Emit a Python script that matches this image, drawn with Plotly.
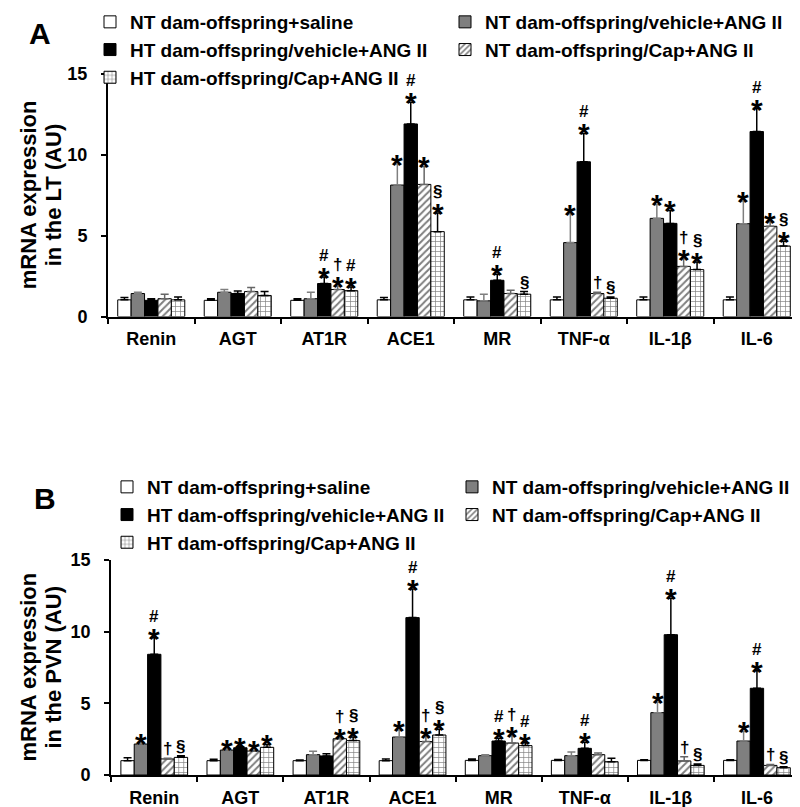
import plotly.graph_objects as go

# ---------------- data ----------------
categories = ["Renin", "AGT", "AT1R", "ACE1", "MR", "TNF-α", "IL-1β", "IL-6"]
group_names = [
    "NT dam-offspring+saline",
    "NT dam-offspring/vehicle+ANG II",
    "HT dam-offspring/vehicle+ANG II",
    "NT dam-offspring/Cap+ANG II",
    "HT dam-offspring/Cap+ANG II",
]
y_ticks = [0, 5, 10, 15]

# Panel A: LT
lt_nt_saline = [1.03, 1.0, 1.0, 1.03, 1.03, 1.03, 1.03, 1.03]
lt_nt_saline_err = [0.15, 0.1, 0.1, 0.15, 0.18, 0.18, 0.18, 0.18]
lt_nt_veh = [1.42, 1.5, 1.1, 8.13, 0.97, 4.57, 6.07, 5.74]
lt_nt_veh_err = [0.08, 0.17, 0.4, 1.31, 0.4, 1.79, 0.86, 1.4]
lt_ht_veh = [1.0, 1.42, 2.04, 11.91, 2.24, 9.57, 5.76, 11.44]
lt_ht_veh_err = [0.1, 0.16, 0.4, 1.34, 0.37, 1.75, 0.8, 1.42]
lt_nt_cap = [1.1, 1.54, 1.67, 8.17, 1.42, 1.42, 3.1, 5.58]
lt_nt_cap_err = [0.27, 0.25, 0.22, 1.11, 0.2, 0.08, 0.47, 0.28]
lt_ht_cap = [1.03, 1.3, 1.6, 5.25, 1.38, 1.13, 2.9, 4.36]
lt_ht_cap_err = [0.18, 0.25, 0.22, 1.15, 0.16, 0.08, 0.47, 0.29]

lt_marks_nt_saline = ["", "", "", "", "", "", "", ""]
lt_marks_nt_veh = ["", "", "", "*", "", "*", "*", "*"]
lt_marks_ht_veh = ["", "", "*#", "*#", "*#", "*#", "*", "*#"]
lt_marks_nt_cap = ["", "", "*†", "*", "", "†", "*†", "*"]
lt_marks_ht_cap = ["", "", "*#", "*§", "§", "§", "*§", "*§"]

# Panel B: PVN
pvn_nt_saline = [1.0, 1.0, 1.0, 1.0, 1.02, 1.02, 1.02, 1.02]
pvn_nt_saline_err = [0.2, 0.1, 0.05, 0.12, 0.1, 0.07, 0.05, 0.05]
pvn_nt_veh = [2.16, 1.74, 1.42, 2.65, 1.35, 1.35, 4.35, 2.37]
pvn_nt_veh_err = [0.1, 0.09, 0.23, 0.49, 0.07, 0.26, 0.72, 0.67]
pvn_ht_veh = [8.42, 1.9, 1.33, 10.98, 2.37, 1.86, 9.79, 6.05]
pvn_ht_veh_err = [1.16, 0.07, 0.16, 2.0, 0.2, 0.42, 2.54, 1.23]
pvn_nt_cap = [1.12, 1.67, 2.53, 2.33, 2.23, 1.42, 0.98, 0.67]
pvn_nt_cap_err = [0.05, 0.05, 0.07, 0.35, 0.5, 0.12, 0.3, 0.07]
pvn_ht_cap = [1.23, 1.93, 2.4, 2.79, 2.05, 0.93, 0.67, 0.51]
pvn_ht_cap_err = [0.12, 0.2, 0.25, 0.4, 0.2, 0.23, 0.1, 0.07]

pvn_marks_nt_saline = ["", "", "", "", "", "", "", ""]
pvn_marks_nt_veh = ["*", "*", "", "*", "", "", "*", "*"]
pvn_marks_ht_veh = ["*#", "*", "", "*#", "*#", "*#", "*#", "*#"]
pvn_marks_nt_cap = ["†", "*", "*†", "*†", "*†", "", "†", "†"]
pvn_marks_ht_cap = ["§", "*", "*§", "*§", "*#", "", "§", "§"]

# ---------------- styles ----------------
FONT = "Liberation Sans, Arial, sans-serif"
W, H = 800, 807
styles = [
    dict(color="white", pattern=None, errcolor="black"),
    dict(color="#7f7f7f", pattern=None, errcolor="#7f7f7f"),
    dict(color="black", pattern=None, errcolor="black"),
    dict(color="white", pattern=dict(shape="/", fgcolor="black", bgcolor="white", size=5, solidity=0.4), errcolor="#666666"),
    dict(color="white", pattern=dict(shape="+", fgcolor="black", bgcolor="white", size=5, solidity=0.25), errcolor="black"),
]

panels = [
    dict(vals=[lt_nt_saline, lt_nt_veh, lt_ht_veh, lt_nt_cap, lt_ht_cap],
         errs=[lt_nt_saline_err, lt_nt_veh_err, lt_ht_veh_err, lt_nt_cap_err, lt_ht_cap_err],
         marks=[lt_marks_nt_saline, lt_marks_nt_veh, lt_marks_ht_veh, lt_marks_nt_cap, lt_marks_ht_cap],
         xd=[0.125, 0.99], yd=[1 - 308.5 / H, 1 - 66 / H], legend="legend",
         title=["mRNA expression", "in the LT (AU)"]),
    dict(vals=[pvn_nt_saline, pvn_nt_veh, pvn_ht_veh, pvn_nt_cap, pvn_ht_cap],
         errs=[pvn_nt_saline_err, pvn_nt_veh_err, pvn_ht_veh_err, pvn_nt_cap_err, pvn_ht_cap_err],
         marks=[pvn_marks_nt_saline, pvn_marks_nt_veh, pvn_marks_ht_veh, pvn_marks_nt_cap, pvn_marks_ht_cap],
         xd=[0.129, 0.99], yd=[1 - 767 / H, 1 - 552 / H], legend="legend2",
         title=["mRNA expression", "in the PVN (AU)"]),
]

BARGAP = 0.225
fig = go.Figure()
annotations = []

for p_i, p in enumerate(panels):
    xa = "x" if p_i == 0 else "x2"
    ya = "y" if p_i == 0 else "y2"
    for g in range(5):
        st = styles[g]
        marker = dict(color=st["color"], line=dict(color="black", width=1))
        if st["pattern"]:
            marker["pattern"] = st["pattern"]
        fig.add_trace(go.Bar(
            x=categories, y=p["vals"][g], name=group_names[g],
            marker=marker, xaxis=xa, yaxis=ya, legend=p["legend"],
            error_y=dict(type="data", array=p["errs"][g], arrayminus=[0] * len(categories),
                         symmetric=False, color=st["errcolor"], thickness=1.5, width=4),
        ))
    # significance marks
    cat_px = (p["xd"][1] - p["xd"][0]) * W / len(categories)
    bar_px = cat_px * (1 - BARGAP) / 5
    for g in range(5):
        for c, m in enumerate(p["marks"][g]):
            top = p["vals"][g][c] + p["errs"][g][c]
            for k, sym in enumerate(m):
                big = sym == "*"
                annotations.append(dict(
                    x=categories[c], y=top, xref=xa, yref=ya,
                    xshift=(g - 2) * bar_px, yshift=(-19 if big else -2) + (12 if k else 0),
                    xanchor="center", yanchor="bottom", showarrow=False, text=sym,
                    font=dict(family=FONT, size=30 if big else 17, color="black", weight="bold"),
                ))
    # y title (two lines)
    for li, (line, xpx) in enumerate(zip(p["title"], [20, 45])):
        annotations.append(dict(
            x=xpx / W, y=sum(p["yd"]) / 2, xref="paper", yref="paper",
            xanchor="center", yanchor="middle",
            text=line, textangle=-90, showarrow=False,
            font=dict(family=FONT, size=22, color="black", weight="bold"),
        ))

annotations.append(dict(x=32 / W, y=1 - 26 / H, xref="paper", yref="paper", text="A",
                        xanchor="center", yanchor="middle",
                        showarrow=False, font=dict(family=FONT, size=30, color="black", weight="bold")))
annotations.append(dict(x=37 / W, y=1 - 490 / H, xref="paper", yref="paper", text="B",
                        xanchor="center", yanchor="middle",
                        showarrow=False, font=dict(family=FONT, size=30, color="black", weight="bold")))

axis_common = dict(showline=True, linecolor="black", linewidth=2, ticks="outside",
                   tickcolor="black", tickwidth=2, ticklen=5, showgrid=False, zeroline=False,
                   automargin=False,
                   tickfont=dict(family=FONT, size=18, color="black", weight="bold"))
xcommon = dict(axis_common, type="category", tickson="boundaries", ticklabelstandoff=5)
ycommon = dict(axis_common, range=[0, 15], tickvals=y_ticks, ticklabelstandoff=10)

legend_common = dict(orientation="h", bgcolor="rgba(0,0,0,0)", entrywidthmode="pixels",
                     entrywidth=310, traceorder="normal", xanchor="left", yanchor="top",
                     font=dict(family=FONT, size=19, color="black", weight="bold"))

fig.update_layout(
    width=W, height=H, margin=dict(l=0, r=0, t=0, b=0, autoexpand=False),
    plot_bgcolor="white", paper_bgcolor="white",
    barmode="group", bargap=BARGAP, bargroupgap=0,
    showlegend=True,
    xaxis=dict(xcommon, domain=panels[0]["xd"], anchor="y"),
    yaxis=dict(ycommon, domain=panels[0]["yd"], anchor="x"),
    xaxis2=dict(xcommon, domain=panels[1]["xd"], anchor="y2"),
    yaxis2=dict(ycommon, domain=panels[1]["yd"], anchor="x2"),
    legend=dict(legend_common, x=82 / W, y=1 + 5 / H),
    legend2=dict(legend_common, x=99 / W, y=1 - 460 / H, entrywidth=300),
    annotations=annotations,
)

fig.write_html("out.html")
